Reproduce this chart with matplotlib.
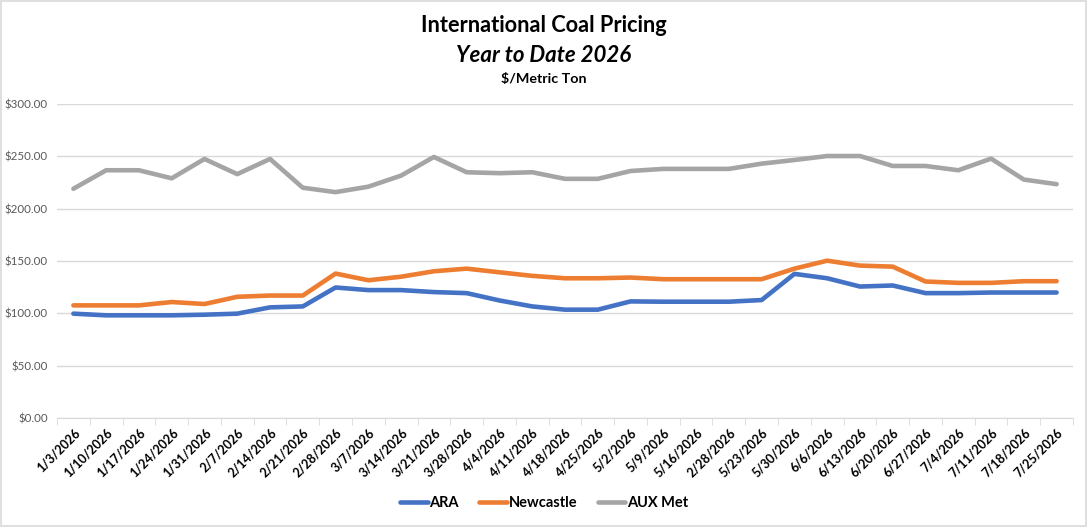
import matplotlib
matplotlib.use("Agg")
import matplotlib.pyplot as plt
from matplotlib.patches import Rectangle
from matplotlib.ticker import FuncFormatter, FixedLocator

plt.rcParams['font.family'] = ['Lato', 'DejaVu Sans']

# week labels as shown on the chart (the 2/28 repeat is in the source)
weeks = ["1/3/2026", "1/10/2026", "1/17/2026", "1/24/2026", "1/31/2026", "2/7/2026",
         "2/14/2026", "2/21/2026", "2/28/2026", "3/7/2026", "3/14/2026", "3/21/2026",
         "3/28/2026", "4/4/2026", "4/11/2026", "4/18/2026", "4/25/2026", "5/2/2026",
         "5/9/2026", "5/16/2026", "2/28/2026", "5/23/2026", "5/30/2026", "6/6/2026",
         "6/13/2026", "6/20/2026", "6/27/2026", "7/4/2026", "7/11/2026", "7/18/2026",
         "7/25/2026"]

ara = [99.7, 98.1, 98.1, 98.1, 98.7, 99.7, 105.7, 106.6, 124.7, 122.2, 122.2, 120.3,
       119.3, 112.3, 106.6, 103.5, 103.5, 111.4, 111.1, 111.1, 111.1, 112.7, 137.7,
       133.5, 125.6, 126.6, 119.3, 119.3, 119.9, 119.9, 119.9]
newcastle = [107.6, 107.6, 107.6, 110.8, 108.9, 115.8, 117.0, 117.0, 138.0, 131.6, 135.0,
             140.2, 142.7, 139.2, 135.8, 133.5, 133.5, 134.2, 132.6, 132.6, 132.6, 132.6,
             142.7, 150.3, 145.6, 144.6, 130.4, 129.1, 129.1, 130.7, 130.7]
aux_met = [219.0, 236.7, 236.7, 229.0, 247.5, 233.0, 247.5, 220.0, 215.8, 221.0, 231.6,
           249.4, 234.8, 233.9, 234.8, 228.5, 228.5, 236.0, 238.0, 238.0, 238.0, 243.0,
           246.5, 250.3, 250.3, 240.8, 240.8, 236.7, 247.8, 227.8, 223.4]

series = [("ARA", ara, "#4472C4"),
          ("Newcastle", newcastle, "#ED7D31"),
          ("AUX Met", aux_met, "#A5A5A5")]

fig = plt.figure(figsize=(10.88, 5.27), dpi=100)
fig.patches.append(Rectangle((0.001, 0.002), 0.997, 0.996, transform=fig.transFigure,
                             fill=False, edgecolor="#D9D9D9", linewidth=1.2))

ax = fig.add_axes([57 / 1088, 109 / 527, 1016 / 1088, 314 / 527])

x = list(range(len(weeks)))
for name, vals, col in series:
    ax.plot(x, vals, color=col, linewidth=3.3, label=name, solid_capstyle="round",
            solid_joinstyle="round", zorder=3)

ax.set_xlim(-0.5, len(weeks) - 0.5)
ax.set_ylim(0, 300)
ax.set_yticks([0, 50, 100, 150, 200, 250, 300])
ax.yaxis.set_major_formatter(FuncFormatter(lambda v, p: "${:,.2f}".format(v)))
ax.grid(axis="y", color="#D9D9D9", linewidth=1)
ax.set_axisbelow(True)

ax.set_xticks(x)
ax.set_xticklabels(weeks, rotation=45, ha="right", rotation_mode="anchor",
                   fontsize=9, fontweight="bold", color="#000000")
ax.xaxis.set_minor_locator(FixedLocator([i - 0.5 for i in range(len(weeks) + 1)]))
ax.tick_params(axis="x", which="major", length=0, pad=6)
ax.tick_params(axis="x", which="minor", length=5, color="#D9D9D9")
ax.tick_params(axis="y", length=0, labelsize=8.3, labelcolor="#595959", pad=6.5)

for s in ["top", "right", "left"]:
    ax.spines[s].set_visible(False)
ax.spines["bottom"].set_color("#D9D9D9")

fig.text(0.5, 1 - 25 / 527, "International Coal Pricing", ha="center", va="center",
         fontsize=15.7, fontweight="bold")
fig.text(0.5, 1 - 55 / 527, "Year to Date 2026", ha="center", va="center",
         fontsize=16, fontweight="bold", fontstyle="italic")
fig.text(0.5, 1 - 79 / 527, "$/Metric Ton", ha="center", va="center",
         fontsize=10.3, fontweight="bold")

leg = fig.legend(loc="center", bbox_to_anchor=(0.5, 1 - 503 / 527), ncol=3,
                 frameon=False, handlelength=1.9, columnspacing=1.4, handletextpad=0.1,
                 prop={"weight": "bold", "size": 10.5})

fig.savefig("out.png", dpi=100)
